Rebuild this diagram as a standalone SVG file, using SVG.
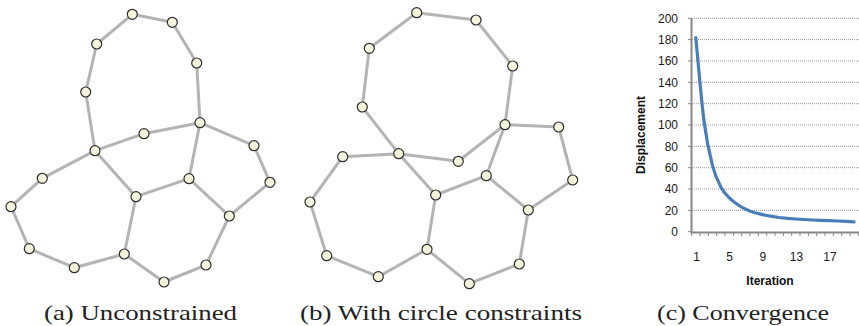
<svg xmlns="http://www.w3.org/2000/svg" width="859" height="326" viewBox="0 0 859 326">
<style>
.e{stroke:#b4b4b4;stroke-width:3;stroke-linecap:round}
.n{fill:#f4f4dc;stroke:#2e2e2e;stroke-width:1.2}
.grid{stroke:#9c9c9c;stroke-width:1;stroke-dasharray:1 1}
.ax{stroke:#878787;stroke-width:2;fill:none}
.tk{stroke:#878787;stroke-width:1}
.tl{font-family:"Liberation Sans",Arial,sans-serif;font-size:12px;fill:#1a1a1a}
.at{font-family:"Liberation Sans",Arial,sans-serif;font-size:12px;font-weight:bold;fill:#111}
.cap{font-family:"Liberation Serif","Times New Roman",serif;font-size:22px;fill:#222}
</style>
<rect width="859" height="326" fill="#fff"/>
<!-- Panel (a) connectors -->
<g id="connectors-a">
<line class="e" x1="132.3" y1="14.3" x2="172.3" y2="22.3"/>
<line class="e" x1="132.3" y1="14.3" x2="96.7" y2="44"/>
<line class="e" x1="172.3" y1="22.3" x2="196.7" y2="63"/>
<line class="e" x1="96.7" y1="44" x2="85.7" y2="92"/>
<line class="e" x1="196.7" y1="63" x2="200" y2="122.7"/>
<line class="e" x1="85.7" y1="92" x2="95" y2="150.7"/>
<line class="e" x1="95" y1="150.7" x2="144" y2="133.7"/>
<line class="e" x1="144" y1="133.7" x2="200" y2="122.7"/>
<line class="e" x1="200" y1="122.7" x2="254" y2="145.7"/>
<line class="e" x1="254" y1="145.7" x2="270" y2="182.3"/>
<line class="e" x1="270" y1="182.3" x2="229.3" y2="216"/>
<line class="e" x1="229.3" y1="216" x2="189" y2="178.7"/>
<line class="e" x1="189" y1="178.7" x2="200" y2="122.7"/>
<line class="e" x1="189" y1="178.7" x2="136" y2="196.7"/>
<line class="e" x1="136" y1="196.7" x2="95" y2="150.7"/>
<line class="e" x1="95" y1="150.7" x2="42.3" y2="178.3"/>
<line class="e" x1="42.3" y1="178.3" x2="11" y2="206.7"/>
<line class="e" x1="11" y1="206.7" x2="29.3" y2="248.7"/>
<line class="e" x1="29.3" y1="248.7" x2="74.3" y2="267.7"/>
<line class="e" x1="74.3" y1="267.7" x2="124.3" y2="254"/>
<line class="e" x1="124.3" y1="254" x2="136" y2="196.7"/>
<line class="e" x1="124.3" y1="254" x2="164" y2="282"/>
<line class="e" x1="164" y1="282" x2="206" y2="265"/>
<line class="e" x1="206" y1="265" x2="229.3" y2="216"/>
</g>
<!-- Panel (b) connectors -->
<g id="connectors-b">
<line class="e" x1="416.7" y1="12.7" x2="476" y2="20"/>
<line class="e" x1="416.7" y1="12.7" x2="369.3" y2="48.3"/>
<line class="e" x1="476" y1="20" x2="512.7" y2="66"/>
<line class="e" x1="369.3" y1="48.3" x2="362.3" y2="107"/>
<line class="e" x1="512.7" y1="66" x2="505" y2="124.7"/>
<line class="e" x1="362.3" y1="107" x2="398.7" y2="153.7"/>
<line class="e" x1="398.7" y1="153.7" x2="458.3" y2="161.3"/>
<line class="e" x1="458.3" y1="161.3" x2="505" y2="124.7"/>
<line class="e" x1="505" y1="124.7" x2="558.7" y2="127"/>
<line class="e" x1="558.7" y1="127" x2="572.7" y2="180"/>
<line class="e" x1="572.7" y1="180" x2="528.3" y2="210"/>
<line class="e" x1="528.3" y1="210" x2="486.3" y2="175.7"/>
<line class="e" x1="486.3" y1="175.7" x2="505" y2="124.7"/>
<line class="e" x1="486.3" y1="175.7" x2="435.7" y2="195"/>
<line class="e" x1="435.7" y1="195" x2="398.7" y2="153.7"/>
<line class="e" x1="398.7" y1="153.7" x2="342.7" y2="156.7"/>
<line class="e" x1="342.7" y1="156.7" x2="310" y2="202"/>
<line class="e" x1="310" y1="202" x2="326.7" y2="255.7"/>
<line class="e" x1="326.7" y1="255.7" x2="378.3" y2="276.7"/>
<line class="e" x1="378.3" y1="276.7" x2="427" y2="249.3"/>
<line class="e" x1="427" y1="249.3" x2="435.7" y2="195"/>
<line class="e" x1="427" y1="249.3" x2="469.3" y2="283.7"/>
<line class="e" x1="469.3" y1="283.7" x2="519.3" y2="264"/>
<line class="e" x1="519.3" y1="264" x2="528.3" y2="210"/>
</g>
<!-- Panel (a) nodes -->
<g id="a-n1"><circle class="n" cx="132.3" cy="14.3" r="5"/></g>
<g id="a-n2"><circle class="n" cx="172.3" cy="22.3" r="5"/></g>
<g id="a-n3"><circle class="n" cx="96.7" cy="44" r="5"/></g>
<g id="a-n4"><circle class="n" cx="196.7" cy="63" r="5"/></g>
<g id="a-n5"><circle class="n" cx="85.7" cy="92" r="5"/></g>
<g id="a-n6"><circle class="n" cx="200" cy="122.7" r="5"/></g>
<g id="a-n7"><circle class="n" cx="144" cy="133.7" r="5"/></g>
<g id="a-n8"><circle class="n" cx="95" cy="150.7" r="5"/></g>
<g id="a-n9"><circle class="n" cx="254" cy="145.7" r="5"/></g>
<g id="a-n10"><circle class="n" cx="42.3" cy="178.3" r="5"/></g>
<g id="a-n11"><circle class="n" cx="189" cy="178.7" r="5"/></g>
<g id="a-n12"><circle class="n" cx="270" cy="182.3" r="5"/></g>
<g id="a-n13"><circle class="n" cx="136" cy="196.7" r="5"/></g>
<g id="a-n14"><circle class="n" cx="11" cy="206.7" r="5"/></g>
<g id="a-n15"><circle class="n" cx="229.3" cy="216" r="5"/></g>
<g id="a-n16"><circle class="n" cx="29.3" cy="248.7" r="5"/></g>
<g id="a-n17"><circle class="n" cx="124.3" cy="254" r="5"/></g>
<g id="a-n18"><circle class="n" cx="74.3" cy="267.7" r="5"/></g>
<g id="a-n19"><circle class="n" cx="206" cy="265" r="5"/></g>
<g id="a-n20"><circle class="n" cx="164" cy="282" r="5"/></g>
<!-- Panel (b) nodes -->
<g id="b-n1"><circle class="n" cx="416.7" cy="12.7" r="5"/></g>
<g id="b-n2"><circle class="n" cx="476" cy="20" r="5"/></g>
<g id="b-n3"><circle class="n" cx="369.3" cy="48.3" r="5"/></g>
<g id="b-n4"><circle class="n" cx="512.7" cy="66" r="5"/></g>
<g id="b-n5"><circle class="n" cx="362.3" cy="107" r="5"/></g>
<g id="b-n6"><circle class="n" cx="505" cy="124.7" r="5"/></g>
<g id="b-n7"><circle class="n" cx="558.7" cy="127" r="5"/></g>
<g id="b-n8"><circle class="n" cx="398.7" cy="153.7" r="5"/></g>
<g id="b-n9"><circle class="n" cx="342.7" cy="156.7" r="5"/></g>
<g id="b-n10"><circle class="n" cx="458.3" cy="161.3" r="5"/></g>
<g id="b-n11"><circle class="n" cx="572.7" cy="180" r="5"/></g>
<g id="b-n12"><circle class="n" cx="486.3" cy="175.7" r="5"/></g>
<g id="b-n13"><circle class="n" cx="435.7" cy="195" r="5"/></g>
<g id="b-n14"><circle class="n" cx="310" cy="202" r="5"/></g>
<g id="b-n15"><circle class="n" cx="528.3" cy="210" r="5"/></g>
<g id="b-n16"><circle class="n" cx="326.7" cy="255.7" r="5"/></g>
<g id="b-n17"><circle class="n" cx="427" cy="249.3" r="5"/></g>
<g id="b-n18"><circle class="n" cx="378.3" cy="276.7" r="5"/></g>
<g id="b-n19"><circle class="n" cx="519.3" cy="264" r="5"/></g>
<g id="b-n20"><circle class="n" cx="469.3" cy="283.7" r="5"/></g>
<!-- Panel (c) chart -->
<g id="chart">
<g>
<line class="grid" x1="692" y1="18.3" x2="859" y2="18.3"/>
<line class="grid" x1="692" y1="39.6" x2="859" y2="39.6"/>
<line class="grid" x1="692" y1="61" x2="859" y2="61"/>
<line class="grid" x1="692" y1="82.3" x2="859" y2="82.3"/>
<line class="grid" x1="692" y1="103.7" x2="859" y2="103.7"/>
<line class="grid" x1="692" y1="125" x2="859" y2="125"/>
<line class="grid" x1="692" y1="146.3" x2="859" y2="146.3"/>
<line class="grid" x1="692" y1="167.7" x2="859" y2="167.7"/>
<line class="grid" x1="692" y1="189" x2="859" y2="189"/>
<line class="grid" x1="692" y1="210.4" x2="859" y2="210.4"/>
</g>
<g>
<line class="tk" x1="688" y1="18.3" x2="691" y2="18.3"/>
<line class="tk" x1="688" y1="39.6" x2="691" y2="39.6"/>
<line class="tk" x1="688" y1="61" x2="691" y2="61"/>
<line class="tk" x1="688" y1="82.3" x2="691" y2="82.3"/>
<line class="tk" x1="688" y1="103.7" x2="691" y2="103.7"/>
<line class="tk" x1="688" y1="125" x2="691" y2="125"/>
<line class="tk" x1="688" y1="146.3" x2="691" y2="146.3"/>
<line class="tk" x1="688" y1="167.7" x2="691" y2="167.7"/>
<line class="tk" x1="688" y1="189" x2="691" y2="189"/>
<line class="tk" x1="688" y1="210.4" x2="691" y2="210.4"/>
<line class="tk" x1="688" y1="231.7" x2="691" y2="231.7"/>
</g>
<g>
<line class="tk" x1="691.7" y1="232" x2="691.7" y2="236"/>
<line class="tk" x1="700" y1="232" x2="700" y2="236"/>
<line class="tk" x1="708.4" y1="232" x2="708.4" y2="236"/>
<line class="tk" x1="716.7" y1="232" x2="716.7" y2="236"/>
<line class="tk" x1="725" y1="232" x2="725" y2="236"/>
<line class="tk" x1="733.4" y1="232" x2="733.4" y2="236"/>
<line class="tk" x1="741.7" y1="232" x2="741.7" y2="236"/>
<line class="tk" x1="750" y1="232" x2="750" y2="236"/>
<line class="tk" x1="758.4" y1="232" x2="758.4" y2="236"/>
<line class="tk" x1="766.7" y1="232" x2="766.7" y2="236"/>
<line class="tk" x1="775" y1="232" x2="775" y2="236"/>
<line class="tk" x1="783.4" y1="232" x2="783.4" y2="236"/>
<line class="tk" x1="791.7" y1="232" x2="791.7" y2="236"/>
<line class="tk" x1="800" y1="232" x2="800" y2="236"/>
<line class="tk" x1="808.4" y1="232" x2="808.4" y2="236"/>
<line class="tk" x1="816.7" y1="232" x2="816.7" y2="236"/>
<line class="tk" x1="825" y1="232" x2="825" y2="236"/>
<line class="tk" x1="833.4" y1="232" x2="833.4" y2="236"/>
<line class="tk" x1="841.7" y1="232" x2="841.7" y2="236"/>
<line class="tk" x1="850" y1="232" x2="850" y2="236"/>
<line class="tk" x1="858.3" y1="232" x2="858.3" y2="236"/>
</g>
<path class="ax" d="M691.5 18 V232.5 H859"/>
<g class="tl" text-anchor="end">
<text x="678" y="22.6">200</text>
<text x="678" y="43.9">180</text>
<text x="678" y="65.3">160</text>
<text x="678" y="86.6">140</text>
<text x="678" y="108">120</text>
<text x="678" y="129.3">100</text>
<text x="678" y="150.6">80</text>
<text x="678" y="172">60</text>
<text x="678" y="193.3">40</text>
<text x="678" y="214.7">20</text>
<text x="678" y="236">0</text>
</g>
<g class="tl" text-anchor="middle">
<text x="696.5" y="261">1</text>
<text x="729.5" y="261">5</text>
<text x="762.8" y="261">9</text>
<text x="796.5" y="261">13</text>
<text x="830" y="261">17</text>
</g>
<text class="at" x="770" y="285" text-anchor="middle">Iteration</text>
<text class="at" transform="translate(644.5 135) rotate(-90)" text-anchor="middle">Displacement</text>
<path d="M695.8 37.6 C697.2 51.6 701.3 100.5 704.1 121.8 C706.9 143.1 709.7 154.8 712.5 165.6 C715.3 176.5 718 181.6 720.8 186.9 C723.6 192.2 726.3 194.7 729.1 197.6 C731.9 200.5 734.7 202.6 737.5 204.5 C740.3 206.5 743 208 745.8 209.3 C748.6 210.6 751.3 211.6 754.1 212.5 L762.5 214.6 L770.8 216.2 L779.1 217.5 L787.5 218.4 L795.8 219 L804.1 219.5 L812.5 220 L820.8 220.4 L829.1 220.7 L837.5 221 L845.8 221.4 L854.1 221.8" fill="none" stroke="#4a7ebb" stroke-width="3.2" stroke-linecap="round" stroke-linejoin="round"/>
</g>
<!-- Captions -->
<text class="cap" x="44" y="320" textLength="193" lengthAdjust="spacingAndGlyphs">(a) Unconstrained</text>
<text class="cap" x="300" y="320" textLength="282" lengthAdjust="spacingAndGlyphs">(b) With circle constraints</text>
<text class="cap" x="657" y="320" textLength="172" lengthAdjust="spacingAndGlyphs">(c) Convergence</text>
</svg>
